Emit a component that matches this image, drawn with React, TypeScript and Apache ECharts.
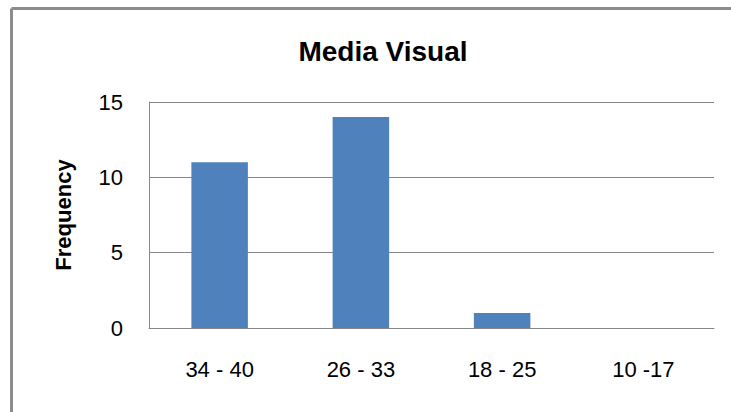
import React, { useEffect, useRef } from "react";
import * as echarts from "echarts";

const categories = ["34 - 40", "26 - 33", "18 - 25", "10 -17"];
const frequency = [11, 14, 1, 0];
const yTicks = { min: 0, max: 15, interval: 5 };

export default function App() {
  const ref = useRef<HTMLDivElement>(null);
  useEffect(() => {
    document.body.style.margin = "0";
    const chart = echarts.init(ref.current!, null, { renderer: "svg" });
    const font = "Liberation Sans";
    chart.setOption({
      animation: false,
      backgroundColor: "#fff",
      title: {
        text: "Media Visual",
        left: 378,
        textAlign: "center",
        top: 32,
        textStyle: { fontFamily: font, fontWeight: "bold", fontSize: 28, color: "#000" },
      },
      graphic: [
        { type: "line", shape: { x1: 11.5, y1: 8.5, x2: 731, y2: 8.5 }, style: { stroke: "#8c8c8c", lineWidth: 3 } },
        { type: "line", shape: { x1: 11.5, y1: 8.5, x2: 11.5, y2: 412 }, style: { stroke: "#8c8c8c", lineWidth: 3 } },
      ],
      grid: { left: 149, right: 17, top: 102, bottom: 84, containLabel: false },
      xAxis: {
        type: "category",
        data: categories,
        axisLine: { lineStyle: { color: "#868686", width: 1 } },
        axisTick: { show: false },
        axisLabel: { fontFamily: font, fontSize: 22, color: "#000", margin: 30 },
      },
      yAxis: {
        type: "value",
        min: yTicks.min,
        max: yTicks.max,
        interval: yTicks.interval,
        name: "Frequency",
        nameLocation: "middle",
        nameGap: 75,
        nameRotate: 90,
        nameTextStyle: { fontFamily: font, fontWeight: "bold", fontSize: 22, color: "#000" },
        axisLine: { show: true, lineStyle: { color: "#868686" } },
        axisTick: { show: false },
        axisLabel: { fontFamily: font, fontSize: 22, color: "#000", margin: 26 },
        splitLine: { lineStyle: { color: "#868686", width: 1 } },
      },
      series: [
        {
          type: "bar",
          data: frequency,
          barWidth: "40%",
          itemStyle: { color: "#4F81BD" },
        },
      ],
    });
    return () => chart.dispose();
  }, []);
  return <div ref={ref} style={{ width: 731, height: 412 }} />;
}
